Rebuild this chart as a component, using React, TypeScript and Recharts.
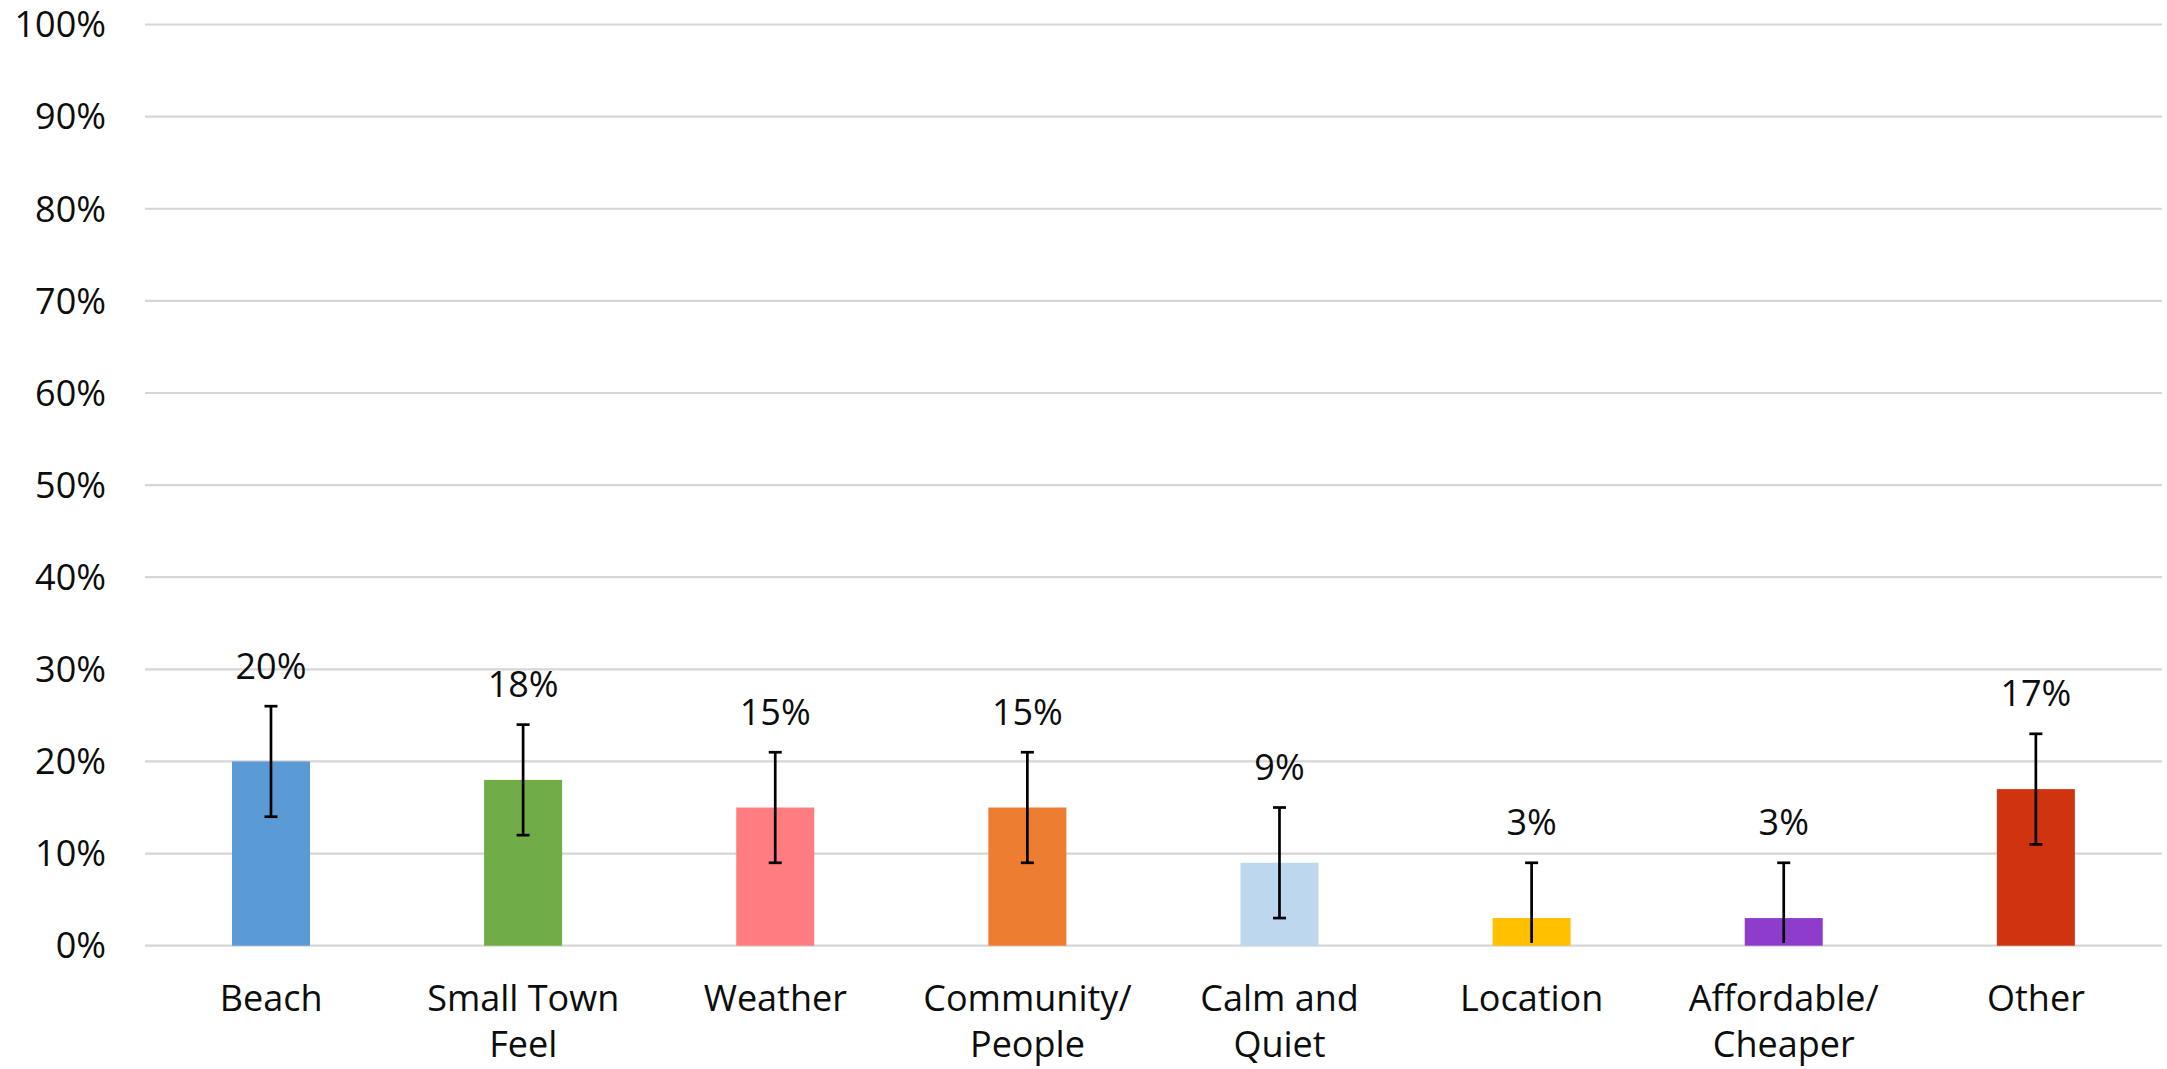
import React from 'react';
import { BarChart, Bar, XAxis, YAxis, CartesianGrid, Cell, LabelList } from 'recharts';

const categories = ['Beach', 'Small Town\nFeel', 'Weather', 'Community/\nPeople', 'Calm and\nQuiet', 'Location', 'Affordable/\nCheaper', 'Other'];
const values = [20, 18, 15, 15, 9, 3, 3, 17];
const errors = [6, 6, 6, 6, 6, 6, 6, 6];
const colors = ['#5B9BD5', '#70AD47', '#FF7C80', '#ED7D31', '#BDD7EE', '#FFC000', '#8E3CCB', '#D0330F'];
const yTicks = [0, 10, 20, 30, 40, 50, 60, 70, 80, 90, 100];

const data = categories.map((name, i) => ({ name, value: values[i], err: errors[i] }));

const FONT = "'Open Sans', 'Noto Sans', sans-serif";
const TEXT = '#0d0d0d';
const FS = 36;

const BarWithError = (props: any) => {
  const { x, y, width, height, fill, payload } = props;
  const v = payload.value;
  const ppu = height / v;
  const base = y + height;
  const cx = x + width / 2;
  const topY = base - (v + payload.err) * ppu;
  const low = v - payload.err;
  const botY = low >= 0 ? base - low * ppu : base - 0.3 * ppu;
  return (
    <g>
      <rect x={x} y={y} width={width} height={height} fill={fill} />
      <line x1={cx} x2={cx} y1={topY} y2={botY} stroke="#000" strokeWidth={2.7} />
      <line x1={cx - 6.5} x2={cx + 6.5} y1={topY} y2={topY} stroke="#000" strokeWidth={2.7} />
      {low >= 0 && <line x1={cx - 6.5} x2={cx + 6.5} y1={botY} y2={botY} stroke="#000" strokeWidth={2.7} />}
    </g>
  );
};

const ValueLabel = (props: any) => {
  const { x, y, width, height, value } = props;
  const ppu = height / value;
  const cy = y - 10.4 * ppu;
  return (
    <text x={x + width / 2} y={cy} dy="0.36em" textAnchor="middle" fontSize={FS} fontFamily={FONT} fill={TEXT}>
      {value}%
    </text>
  );
};

const XTick = (props: any) => {
  const { x, y, payload } = props;
  const lines = String(payload.value).split('\n');
  return (
    <text x={x} y={y} textAnchor="middle" fontSize={FS} fontFamily={FONT} fill={TEXT}>
      {lines.map((l, i) => (
        <tspan key={i} x={x} dy={i === 0 ? 65 : 46}>{l}</tspan>
      ))}
    </text>
  );
};

export default function App() {
  return (
    <div style={{ position: 'absolute', left: 0, top: 0, background: '#fff' }}>
      <BarChart
        width={2167}
        height={1069}
        data={data}
        margin={{ top: 24.5, right: 5, bottom: 0, left: 0 }}
        barCategoryGap="34.5%"
      >
        <CartesianGrid vertical={false} stroke="#D6D6D6" strokeWidth={2.2} />
        <XAxis
          dataKey="name"
          axisLine={false}
          tickLine={false}
          tickSize={0}
          tickMargin={0}
          height={123.3}
          interval={0}
          tick={<XTick />}
        />
        <YAxis
          domain={[0, 100]}
          ticks={yTicks}
          axisLine={false}
          tickLine={false}
          tickSize={0}
          tickMargin={39}
          width={145}
          tickFormatter={(v: number) => `${v}%`}
          tick={{ fontSize: FS, fontFamily: FONT, fill: TEXT }}
        />
        <Bar dataKey="value" isAnimationActive={false} shape={<BarWithError />}>
          {data.map((d, i) => (
            <Cell key={d.name} fill={colors[i]} />
          ))}
          <LabelList dataKey="value" content={<ValueLabel />} />
        </Bar>
      </BarChart>
    </div>
  );
}
